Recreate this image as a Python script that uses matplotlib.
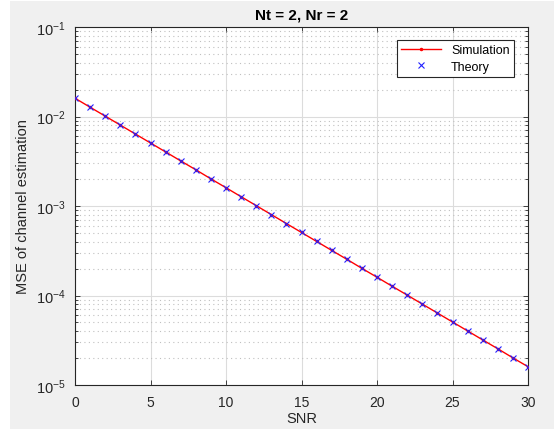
import matplotlib
matplotlib.use("Agg")
import matplotlib.pyplot as plt
from matplotlib.patches import Rectangle
from matplotlib.ticker import LogLocator, NullFormatter

# --- DATA ---
SNR = list(range(0, 31))
MSE_SIM = [1.60e-2, 1.27e-2, 1.01e-2, 8.02e-3, 6.37e-3, 5.06e-3, 4.02e-3, 3.19e-3,
           2.54e-3, 2.01e-3, 1.60e-3, 1.27e-3, 1.01e-3, 8.02e-4, 6.37e-4, 5.06e-4,
           4.02e-4, 3.19e-4, 2.54e-4, 2.01e-4, 1.60e-4, 1.27e-4, 1.01e-4, 8.02e-5,
           6.37e-5, 5.06e-5, 4.02e-5, 3.19e-5, 2.54e-5, 2.01e-5, 1.60e-5]
MSE_THEORY = [1.60e-2, 1.27e-2, 1.01e-2, 8.02e-3, 6.37e-3, 5.06e-3, 4.02e-3, 3.19e-3,
              2.54e-3, 2.01e-3, 1.60e-3, 1.27e-3, 1.01e-3, 8.02e-4, 6.37e-4, 5.06e-4,
              4.02e-4, 3.19e-4, 2.54e-4, 2.01e-4, 1.60e-4, 1.27e-4, 1.01e-4, 8.02e-5,
              6.37e-5, 5.06e-5, 4.02e-5, 3.19e-5, 2.54e-5, 2.01e-5, 1.60e-5]
XTICKS = [0, 5, 10, 15, 20, 25, 30]

# --- STYLE ---
TXT = "#262626"
plt.rcParams["font.family"] = ["Liberation Sans", "DejaVu Sans"]
plt.rcParams["mathtext.fontset"] = "custom"
plt.rcParams["mathtext.rm"] = "Liberation Sans"

fig = plt.figure(figsize=(5.54, 4.31), dpi=100, facecolor="white")
fig.patches.append(Rectangle((10 / 554, 1 / 431), 544 / 554, 428 / 431,
                             transform=fig.transFigure, facecolor="#f0f0f0",
                             edgecolor="none", zorder=-10))
ax = fig.add_axes([75 / 554, 1 - 386 / 431, 453 / 554, 358 / 431])

ax.plot(SNR, MSE_SIM, "r.-", lw=1, ms=3, label="Simulation", zorder=3)
ax.plot(SNR, MSE_THEORY, "x", color="#2020ff", ls="none", ms=5, mew=0.8,
        label="Theory", zorder=4)

ax.set_yscale("log")
ax.set_xlim(0, 30)
ax.set_ylim(1e-5, 1e-1)
ax.set_xticks(XTICKS)
ax.yaxis.set_major_locator(LogLocator(base=10, numticks=10))
ax.yaxis.set_minor_locator(LogLocator(base=10, subs=range(2, 10), numticks=20))
ax.yaxis.set_minor_formatter(NullFormatter())

ax.grid(True, which="major", color="#dcdcdc", lw=0.8, ls="-")
ax.grid(True, which="minor", axis="y", color="#c0c0c0", lw=0.8, ls=(0, (1, 3)))
ax.set_axisbelow(True)

ax.tick_params(which="both", direction="in", top=True, right=True,
               colors=TXT, labelcolor=TXT, width=0.6)
ax.tick_params(axis="x", labelsize=10)
ax.tick_params(axis="y", labelsize=10.5)
ax.tick_params(which="major", length=3.5, pad=7)
ax.tick_params(which="minor", length=2)
for s in ax.spines.values():
    s.set_color(TXT)
    s.set_linewidth(0.8)

ax.set_title("Nt = 2, Nr = 2", fontsize=11, fontweight="bold", color="black", pad=6)
ax.set_xlabel("SNR", fontsize=10.5, color=TXT, labelpad=2)
ax.set_ylabel("MSE of channel estimation", fontsize=10.5, color=TXT, labelpad=4)

leg = ax.legend(loc="upper right", bbox_to_anchor=(0.969, 0.964), borderaxespad=0,
                fontsize=9, handlelength=3.2, fancybox=False, framealpha=1,
                edgecolor=TXT, borderpad=0.35, labelspacing=0.35)
leg.get_frame().set_linewidth(0.8)

fig.savefig("out.png", dpi=100, facecolor=fig.get_facecolor())
